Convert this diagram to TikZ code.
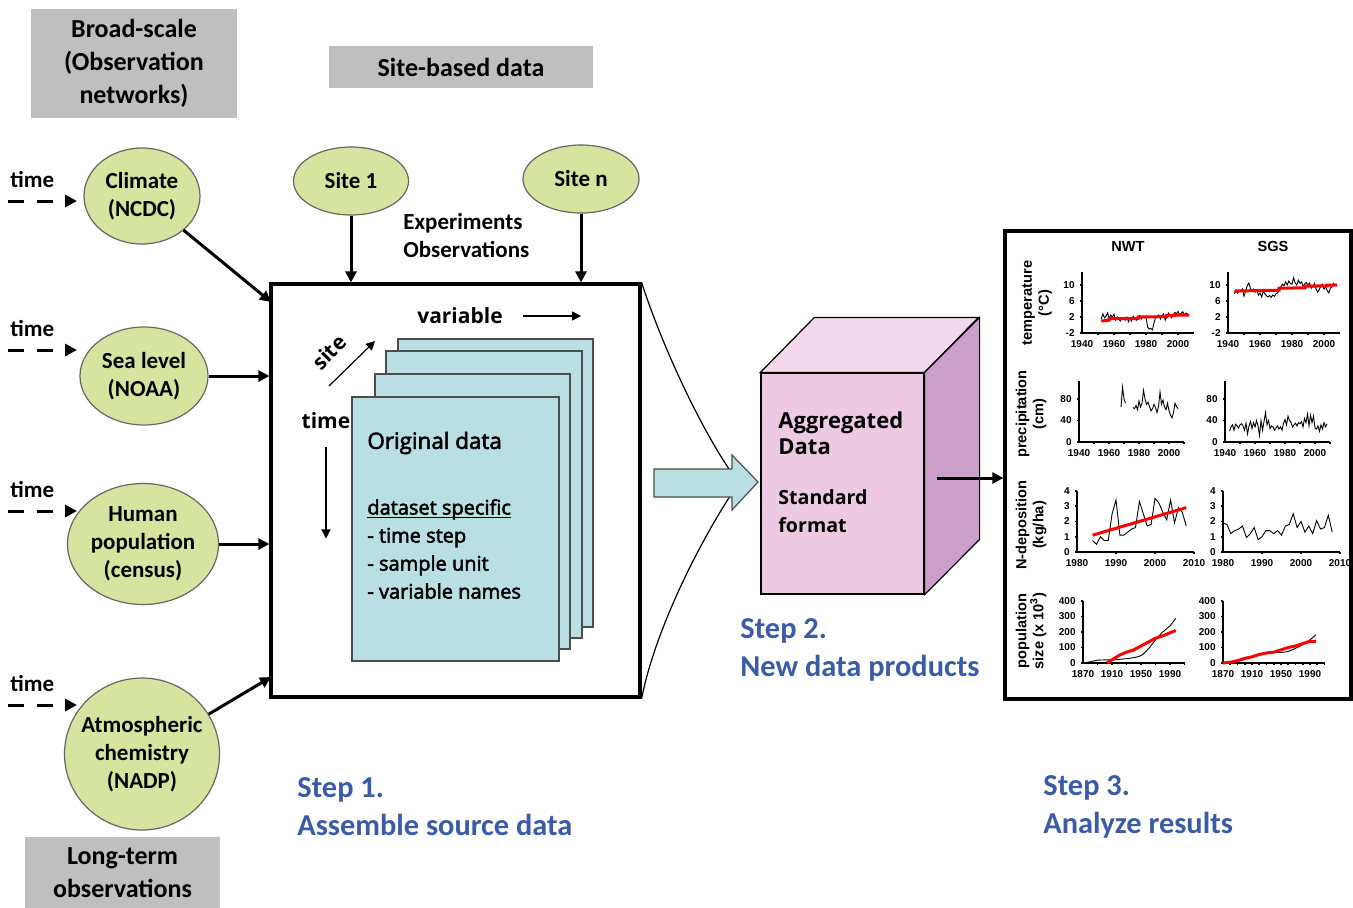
\documentclass[tikz,border=0pt]{standalone}
\usepackage{fontspec}
\setmainfont{Carlito}
\newfontfamily\sheetfont{Open Sans}[FakeBold=2.5]
\newfontfamily\cubefont{Open Sans}
\newfontfamily\chartfont{Liberation Sans}
\usetikzlibrary{arrows.meta, shapes.geometric, calc}

\definecolor{boxgray}{HTML}{BFBFBF}
\definecolor{srcgreen}{HTML}{D7E4A0}
\definecolor{sheetblue}{HTML}{B9DFE2}
\definecolor{cubefront}{HTML}{EDCAE2}
\definecolor{cubetop}{HTML}{F3D7EA}
\definecolor{cubeside}{HTML}{CDA0CC}
\definecolor{stepblue}{HTML}{3A5BA8}

% underline that sits close to the baseline
\newcommand{\tightul}[1]{\setbox0\hbox{#1}\rlap{\rule[-1.6pt]{\wd0}{0.6pt}}\box0}

% small chart frame: x from #1 to #2, x ticks #3, x labels #4,
% y from #5 to #6, y labels #7
\newcommand{\chartaxes}[7]{%
  \draw[axisln] (#1,#6) -- (#1,#5) -- (#2,#5);
  \foreach \tk in {#3} \draw[axisln] (\tk,#5) -- ++(0pt,-1.2pt);
  \foreach \tk in {#4} \node[ticklbl, below=3pt] at (\tk,#5) {\tk};
  \foreach \vl in {#7} {
    \draw[axisln] (#1,\vl) -- ++(-1.2pt,0pt);
    \node[ticklbl, left=3pt] at (#1,\vl) {\vl};
  }%
}

\begin{document}
\begin{tikzpicture}[x=0.5pt, y=-0.5pt,
  lbl/.style={font=\bfseries\fontsize{11.5}{14}\selectfont, align=center, inner sep=0pt},
  graybox/.style={fill=boxgray, font=\bfseries\fontsize{13}{16.5}\selectfont, align=center, inner sep=0pt},
  source/.style={ellipse, draw=black!60, line width=0.6pt, fill=srcgreen, lbl, inner sep=-6pt},
  steplbl/.style={text=stepblue, font=\bfseries\fontsize{15.2}{19}\selectfont, align=left, inner sep=0pt, anchor=west},
  sheet/.style={fill=sheetblue, draw=black!70, line width=0.6pt},
  sheettxt/.style={font=\sheetfont\fontsize{10}{14}\selectfont, align=left, inner sep=0pt, anchor=west},
  dimtxt/.style={font=\cubefont\bfseries\fontsize{10.5}{12}\selectfont, inner sep=0pt},
  arr/.style={line width=1.5pt, -{Triangle[length=5.5pt,width=5.5pt]}},
  tarr/.style={line width=1.5pt, dash pattern=on 8pt off 6.5pt, -{Triangle[length=6pt,width=6pt]}},
  thinarr/.style={line width=0.6pt, -{Triangle[length=4.5pt,width=4.5pt]}},
  axisln/.style={line width=0.9pt},
  dataln/.style={line width=0.45pt},
  trend/.style={red, line width=1.5pt},
  ticklbl/.style={font=\chartfont\bfseries\fontsize{5}{6}\selectfont, inner sep=0.5pt},
  charttitle/.style={font=\chartfont\bfseries\fontsize{7.3}{8.5}\selectfont, align=center, inner sep=0pt}]

\useasboundingbox (0,0) rectangle (1353,907);

% headings
\node[graybox, minimum width=103pt, minimum height=54.5pt] (broad) at (134,63.5) {Broad-scale\\(Observation\\networks)};
\node[graybox, minimum width=132pt, minimum height=21pt] (sitebased) at (461,67) {Site-based data};
\node[graybox, minimum width=97.5pt, minimum height=36pt] (longterm) at (122.5,873) {Long-term\\observations};

% sources
\node[source, minimum width=58pt, minimum height=48pt] (clim) at (142,196) {Climate\\(NCDC)};
\node[source, minimum width=64pt, minimum height=49pt] (sea) at (144,376) {Sea level\\(NOAA)};
\node[source, minimum width=75.5pt, minimum height=60.5pt] (human) at (143,544) {Human\\population\\(census)};
\node[source, minimum width=77.5pt, minimum height=76pt] (atmos) at (142,754) {Atmospheric\\chemistry\\(NADP)};
\node[source, minimum width=57.5pt, minimum height=34pt] (site1) at (351,181) {Site 1};
\node[source, minimum width=58pt, minimum height=34pt] (siten) at (581,179) {Site n};

\node[lbl, align=left, anchor=west] (expobs) at (403,236) {Experiments\\Observations};

\foreach \src/\ty in {clim/201, sea/350, human/511, atmos/705} {
  \node[lbl, anchor=south west] (time-\src) at (10,\ty-13) {time};
  \coordinate (tstart-\src) at (8,\ty);
  \draw[tarr] (tstart-\src) -- (77,\ty);
}

% step 1: source data
\node[draw, line width=1.6pt, minimum width=184.5pt, minimum height=206.5pt] (src) at (455.5,490.5) {};
\coordinate (climin) at (271,302);
\coordinate (atmosin) at (271,677);
\draw[arr] (clim) -- (climin);
\draw[arr] (sea) -- (sea -| src.west);
\draw[arr] (human) -- (human -| src.west);
\draw[arr] (atmos) -- (atmosin);
\draw[arr] (site1) -- (site1 |- src.north);
\draw[arr] (siten) -- (siten |- src.north);

\foreach \xa/\ya/\xb/\yb in {398/339/593/627, 386/351/582/638, 375/374/570/649, 352/397/559/661}
  \draw[sheet] (\xa,\ya) rectangle (\xb,\yb);
\node[sheettxt, font=\sheetfont\fontsize{11.2}{14}\selectfont] (orig) at (367,443) {Original data};
\node[sheettxt] (spec) at (367,549) {\tightul{dataset specific}\\- time step\\- sample unit\\- variable names};

\node[dimtxt] (var) at (460,316) {variable};
\draw[thinarr] ([xshift=10pt]var.east) -- ++(58,0);
\node[dimtxt, rotate=45] (site) at (329,352) {site};
\draw[thinarr] (329,386) -- (375,341);
\node[dimtxt] (time) at (326,421) {time};
\draw[thinarr] ([yshift=-9pt]time.south) -- ++(0,91);

% funnel into step 2
\draw[line width=0.6pt] (src.north east) .. controls (660,340) and (700,430) .. (738,482);
\draw[line width=0.6pt] (src.south east) .. controls (655,630) and (700,540) .. (738,484);
\draw[fill=sheetblue, draw=black!70, line width=0.6pt]
  (654,469) -- (732,469) -- (732,455) -- (758,482) -- (732,510) -- (732,497) -- (654,497) -- cycle;

% step 2: aggregated cube
\node[draw, line width=0.6pt, fill=cubefront, minimum width=81.5pt, minimum height=110.5pt] (agg) at (842.5,483.5) {};
\draw[fill=cubetop, line width=0.6pt] (agg.north west) -- ++(54,-55) -- ++(164,0) -- (agg.north east) -- cycle;
\draw[fill=cubeside, line width=0.6pt] (agg.north east) -- ++(55,-55) -- ++(0,222) -- (agg.south east) -- cycle;
\node[sheettxt, font=\cubefont\bfseries\fontsize{11}{13}\selectfont] (aggtxt) at (778,433) {Aggregated\\Data};
\node[sheettxt, font=\cubefont\bfseries\fontsize{9.8}{14}\selectfont] (stdtxt) at (778,511) {Standard\\format};

% step 3: results panel
\node[draw, line width=1.6pt, minimum width=173pt, minimum height=234pt] (res) at (1178,465) {};
\coordinate (aggout) at (937,478);
\draw[arr] (aggout) -- (aggout -| res.west);

\node[steplbl] (step1) at (297,807) {Step 1.\\Assemble source data};
\node[steplbl] (step2) at (740,650) {Step 2.\\New data products};
\node[steplbl] (step3) at (1043,807) {Step 3.\\Analyze results};

\node[charttitle] (nwt) at (1128,246) {NWT};
\node[charttitle] (sgs) at (1273,246) {SGS};
\node[charttitle, rotate=90] (ytemp) at (1037,303) {temperature\\(°C)};
\node[charttitle, rotate=90] (yprec) at (1031,414) {precipitation\\(cm)};
\node[charttitle, rotate=90] (ydep) at (1031,525) {N-deposition\\(kg/ha)};
\node[charttitle, rotate=90] (ypop) at (1031,631) {population\\size (x 10\textsuperscript{3})};

% temperature
\begin{scope}[shift={(1082,333)}, x=0.8pt, y=2pt, shift={(-1940,2)}]
  \chartaxes{1940}{2010}{1950,1960,...,2000}{1940,1960,1980,2000}{-2}{13.2}{-2,2,6,10}
  \draw[dataln] plot coordinates {(1952,1.5) (1953,2.8) (1954,1.8) (1955,2.2) (1956,3.0) (1957,1.6) (1958,2.5) (1959,2.0) (1960,2.7) (1961,1.2) (1962,2.0) (1963,1.4) (1964,1.0) (1965,1.8) (1966,1.5) (1967,1.2) (1968,2.0) (1969,0.8) (1970,1.6) (1971,1.0) (1972,2.2) (1973,1.5) (1974,1.2) (1975,2.0) (1976,2.4) (1977,1.5) (1978,2.2) (1979,1.8) (1980,2.0) (1981,-0.5) (1982,-1.0) (1983,-0.8) (1984,-1.2) (1985,0.5) (1986,2.0) (1987,1.8) (1988,2.5) (1989,1.5) (1990,2.3) (1991,2.8) (1992,1.2) (1993,2.0) (1994,3.0) (1995,2.4) (1996,1.8) (1997,2.6) (1998,3.2) (1999,2.8) (2000,3.4) (2001,2.5) (2002,2.9) (2003,3.3) (2004,2.5) (2005,3.0) (2006,2.7) (2007,2.5)};
  \draw[trend] (1952,1.0) -- (1957,1.2) -- (1957,1.6) -- (1975,1.6) -- (1975,2.0) -- (1993,2.1) -- (1993,2.4) -- (2007,2.5);
\end{scope}
\begin{scope}[shift={(1228,333)}, x=0.8pt, y=2pt, shift={(-1940,2)}]
  \chartaxes{1940}{2010}{1950,1960,...,2000}{1940,1960,1980,2000}{-2}{13.2}{-2,2,6,10}
  \draw[dataln] plot coordinates {(1944,7.8) (1945,8.5) (1946,8.0) (1947,8.6) (1948,8.3) (1949,9.0) (1950,7.2) (1951,8.5) (1952,9.8) (1953,10.5) (1954,9.2) (1955,8.4) (1956,9.0) (1957,8.2) (1958,8.8) (1959,7.5) (1960,8.0) (1961,7.0) (1962,8.5) (1963,7.8) (1964,7.3) (1965,7.0) (1966,7.4) (1967,6.9) (1968,7.5) (1969,7.2) (1970,7.8) (1971,8.0) (1972,8.8) (1973,9.5) (1974,10.2) (1975,9.8) (1976,10.8) (1977,10.0) (1978,11.0) (1979,10.4) (1980,10.2) (1981,11.8) (1982,10.5) (1983,10.0) (1984,11.2) (1985,10.4) (1986,10.8) (1987,9.6) (1988,10.3) (1989,10.6) (1990,10.0) (1991,10.5) (1992,9.2) (1993,9.6) (1994,10.4) (1995,9.0) (1996,8.2) (1997,8.8) (1998,9.8) (1999,10.2) (2000,9.0) (2001,9.5) (2002,8.6) (2003,8.0) (2004,9.2) (2005,9.6) (2006,10.4) (2007,10.0) (2008,9.8)};
  \draw[trend] (1944,8.5) -- (1972,8.7) -- (1972,9.2) -- (1988,9.3) -- (1988,9.7) -- (2002,9.8) -- (2002,10.0) -- (2008,10.0);
\end{scope}

% precipitation
\begin{scope}[shift={(1079,442)}, x=0.75pt, y=0.269pt, shift={(-1940,0)}]
  \chartaxes{1940}{2010}{1950,1960,...,2010}{1940,1960,1980,2000}{0}{113}{0,40,80}
  \draw[dataln] plot coordinates {(1968,65) (1969,102) (1970,80) (1971,72)};
  \draw[dataln] plot coordinates {(1976,64) (1977,62) (1978,68) (1979,60) (1980,76) (1981,65) (1982,72) (1983,96) (1984,80) (1985,70) (1986,74) (1987,66) (1988,58) (1989,62) (1990,70) (1991,64) (1992,55) (1993,66) (1994,93) (1995,70) (1996,78) (1997,65) (1998,60) (1999,72) (2000,58) (2001,50) (2002,45) (2003,55) (2004,72) (2005,66) (2006,62)};
\end{scope}
\begin{scope}[shift={(1225,442)}, x=0.75pt, y=0.269pt, shift={(-1940,0)}]
  \chartaxes{1940}{2010}{1950,1960,...,2010}{1940,1960,1980,2000}{0}{113}{0,40,80}
  \draw[dataln] plot coordinates {(1943,20) (1944,28) (1945,32) (1946,22) (1947,33) (1948,30) (1949,26) (1950,32) (1951,34) (1952,30) (1953,22) (1954,35) (1955,15) (1956,30) (1957,38) (1958,25) (1959,36) (1960,28) (1961,40) (1962,30) (1963,12) (1964,40) (1965,22) (1966,38) (1967,55) (1968,32) (1969,40) (1970,25) (1971,30) (1972,28) (1973,22) (1974,26) (1975,30) (1976,24) (1977,28) (1978,22) (1979,35) (1980,42) (1981,32) (1982,48) (1983,40) (1984,36) (1985,28) (1986,32) (1987,35) (1988,30) (1989,36) (1990,34) (1991,38) (1992,28) (1993,44) (1994,36) (1995,52) (1996,30) (1997,50) (1998,36) (1999,48) (2000,26) (2001,24) (2002,30) (2003,20) (2004,32) (2005,24) (2006,36) (2007,28) (2008,34)};
\end{scope}

% N-deposition
\begin{scope}[shift={(1077,552)}, x=1.95pt, y=7.65pt, shift={(-1980,0)}]
  \chartaxes{1980}{2010}{1990,2000,2010}{1980,1990,2000,2010}{0}{4}{0,1,2,3,4}
  \draw[dataln] plot coordinates {(1984,0.75) (1985,0.5) (1986,1.0) (1987,0.75) (1988,0.75) (1989,2.5) (1990,3.4) (1991,1.1) (1992,1.1) (1993,1.3) (1994,1.5) (1995,1.6) (1996,3.3) (1997,2.5) (1998,1.7) (1999,1.8) (2000,3.5) (2001,3.2) (2002,2.6) (2003,2.1) (2004,3.4) (2005,1.9) (2006,2.9) (2007,2.6) (2008,1.7)};
  \draw[trend] (1984,1.1) -- (2008,2.9);
\end{scope}
\begin{scope}[shift={(1223,552)}, x=1.95pt, y=7.65pt, shift={(-1980,0)}]
  \chartaxes{1980}{2010}{1990,2000,2010}{1980,1990,2000,2010}{0}{4}{0,1,2,3,4}
  \draw[dataln] plot coordinates {(1980,1.9) (1981,1.8) (1982,1.2) (1983,1.4) (1984,1.5) (1985,1.7) (1986,0.95) (1987,1.2) (1988,1.6) (1989,0.8) (1990,1.0) (1991,1.4) (1992,1.4) (1993,1.2) (1994,1.4) (1995,1.1) (1996,1.7) (1997,1.8) (1998,2.5) (1999,1.6) (2000,2.0) (2001,1.3) (2002,1.7) (2003,1.2) (2004,2.05) (2005,1.5) (2006,1.6) (2007,2.4) (2008,1.3)};
\end{scope}

% population size
\begin{scope}[shift={(1083,663)}, x=0.3625pt, y=0.0775pt, shift={(-1870,0)}]
  \chartaxes{1870}{2010}{1890,1910,...,2010}{1870,1910,1950,1990}{0}{400}{0,100,200,300,400}
  \draw[dataln] plot[smooth] coordinates {(1870,0) (1880,8) (1890,18) (1900,20) (1910,20) (1920,24) (1930,28) (1940,35) (1950,48) (1960,90) (1970,150) (1980,200) (1990,240) (1998,290)};
  \draw[trend] plot coordinates {(1903,0) (1910,20) (1920,50) (1930,70) (1940,85) (1950,110) (1960,135) (1970,160) (1980,175) (1990,195) (1998,210)};
\end{scope}
\begin{scope}[shift={(1223,663)}, x=0.3625pt, y=0.0775pt, shift={(-1870,0)}]
  \chartaxes{1870}{2010}{1880,1890,...,2010}{1870,1910,1950,1990}{0}{400}{0,100,200,300,400}
  \draw[dataln] plot[smooth] coordinates {(1870,0) (1890,10) (1910,40) (1920,55) (1930,65) (1940,68) (1950,68) (1960,75) (1970,95) (1980,120) (1990,150) (1998,182)};
  \draw[trend] plot coordinates {(1870,0) (1880,5) (1890,15) (1900,30) (1910,40) (1920,55) (1930,65) (1940,70) (1950,85) (1960,100) (1970,110) (1980,125) (1990,140) (1998,140)};
\end{scope}

\end{tikzpicture}
\end{document}
